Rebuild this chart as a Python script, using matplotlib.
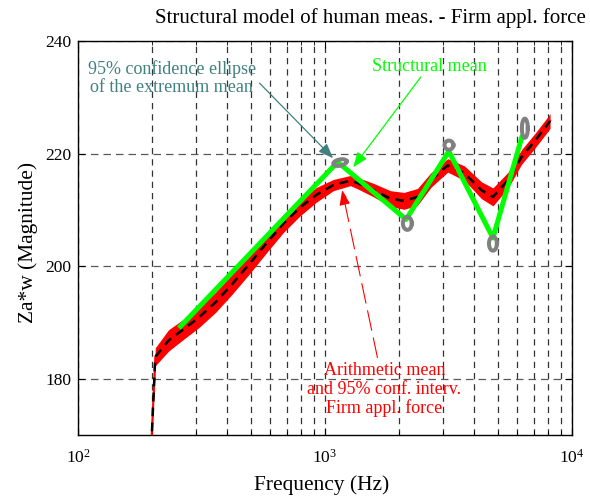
import numpy as np
import matplotlib
matplotlib.use("Agg")
import matplotlib.pyplot as plt

plt.rcParams['font.family'] = ['Liberation Serif', 'DejaVu Serif']
plt.rcParams['mathtext.fontset'] = 'custom'
plt.rcParams['mathtext.rm'] = 'Liberation Serif'
plt.rcParams['mathtext.it'] = 'Liberation Serif:italic'

# Arithmetic mean curve (Hz, magnitude) and half-width of 95% band
freq = [198, 205.6, 232.6, 264, 309, 361, 422.5, 494, 578, 676, 791, 925, 1081, 1265,
        1346, 1574, 1841, 2089, 2368, 2685, 3139, 3673, 4296, 4786, 5515, 6250, 7086,
        8035, 8150]
mean = [168.0, 183.9, 186.8, 188.6, 190.9, 193.6, 196.9, 200.4, 204.0, 207.5, 210.4,
        212.7, 214.4, 215.2, 214.8, 213.5, 212.0, 211.6, 212.3, 215.3, 217.9, 216.5,
        213.5, 212.3, 215.3, 219.4, 222.3, 225.4, 225.8]
halfw = [0.3, 1.6, 1.9, 1.8, 1.8, 1.8, 1.8, 1.8, 1.7, 1.6, 1.5, 1.3, 1.0, 0.9,
         1.0, 1.2, 1.4, 1.5, 1.5, 1.3, 1.2, 1.3, 1.5, 1.6, 1.4, 1.3, 1.3, 1.3, 1.3]

# Structural mean (piecewise linear through extrema)
struct_f = [256, 1125, 2130, 3170, 4786, 6300]
struct_y = [189.0, 218.5, 208.3, 220.4, 205.0, 223.3]

# 95% confidence ellipses of extremum means
ell_f = [1150, 2155, 3175, 4786, 6443]
ell_y = [218.4, 207.6, 221.5, 204.0, 224.5]
ell_w = [0.0275, 0.0180, 0.0180, 0.0160, 0.0120]   # semi-axis, decades
ell_h = [0.55, 1.15, 0.80, 1.25, 1.70]             # semi-axis, dB
ell_ang = [12, 0, 0, 0, 0]

title = "Structural model of human meas. - Firm appl. force"

fig = plt.figure(figsize=(5.9, 4.99), dpi=100)
ax = fig.add_axes([78/590, 1-435/499, (572-78)/590, (435-41)/499])

f = np.array(freq); m = np.array(mean); h = np.array(halfw)
ax.fill_between(f, m - h, m + h, color='#ff0000', lw=0, zorder=3)
ax.plot(f, m, color='#ff0000', lw=1.5, zorder=3)
ax.plot(f, m, color='black', lw=1.8, dashes=(3.5, 2.5), zorder=4)
ax.plot(struct_f, struct_y, color='#00ff00', lw=3.6, zorder=5, solid_capstyle='butt')

t = np.linspace(0, 2*np.pi, 100)
for cf, cy, w, hh, a in zip(ell_f, ell_y, ell_w, ell_h, ell_ang):
    # rotate in pixel-like space: 245 px/decade, 5.62 px/dB
    xp = w*245*np.cos(t); yp = hh*5.62*np.sin(t)
    th = np.deg2rad(a)
    xr = xp*np.cos(th) - yp*np.sin(th); yr = xp*np.sin(th) + yp*np.cos(th)
    ax.plot(10**(np.log10(cf) + xr/245), cy + yr/5.62, color='#808080', lw=2.9, zorder=6)

ax.set_xscale('log')
ax.set_xlim(100, 10000)
ax.set_ylim(170, 240)
ax.set_yticks([180, 200, 220, 240])
ax.tick_params(which='both', direction='in', top=True, right=True, labelsize=12.5)
ax.tick_params(which='major', length=5, width=0.8)
ax.tick_params(which='minor', length=3, width=0.6)
ax.tick_params(axis='x', pad=10)
ax.tick_params(axis='y', pad=5)
ax.grid(True, which='both', axis='x', color='0.2', lw=0.9, linestyle=(0, (5, 4)))
ax.grid(True, which='major', axis='y', color='0.35', lw=0.9, linestyle=(0, (6, 4)))
ax.set_axisbelow(True)
for s in ax.spines.values():
    s.set_linewidth(1.0)

ax.set_xlabel("Frequency (Hz)", fontsize=15.4)
ax.xaxis.set_label_coords((322-78)/494, -(485-435)/394)
ax.xaxis.label.set_va('center')
ax.set_ylabel("Za*w (Magnitude)", fontsize=15.4)
ax.yaxis.set_label_coords(-(78-28)/494, 0.49)
ax.yaxis.label.set_va('center')
fig.text(370/590, 1-18/499, title, fontsize=15, ha='center', va='center')

def px(xp, yp):
    return (10**(2 + (xp-80)/245), 240 - (yp-41)/5.62)

teal = '#408080'
ax.text(*px(173, 78), "95% confidence ellipse\nof the extremum mean", color=teal,
        fontsize=13, ha='center', va='center', linespacing=1.15, zorder=7)
ax.annotate("", xy=px(333, 158), xytext=px(260, 83),
            arrowprops=dict(arrowstyle='-|>,head_length=0.9,head_width=0.35', color=teal, lw=0.9,
                            shrinkA=0, shrinkB=0), zorder=7)
ax.text(*px(429, 66), "Structural mean", color='#00ff00', fontsize=13,
        ha='center', va='center', zorder=7)
ax.annotate("", xy=px(353, 167), xytext=px(420, 77),
            arrowprops=dict(arrowstyle='-|>,head_length=0.9,head_width=0.35', color='#00ff00', lw=0.9,
                            shrinkA=0, shrinkB=0), zorder=7)
ax.text(*px(384, 389), "Arithmetic mean\nand 95% conf. interv.\nFirm appl. force", color='#ff0000',
        fontsize=13, ha='center', va='center', linespacing=1.15, zorder=7)
ax.annotate("", xy=px(342, 190), xytext=px(377, 357),
            arrowprops=dict(arrowstyle='-|>,head_length=0.9,head_width=0.35', color='#ff0000', lw=0.8,
                            linestyle=(0, (18, 7)), shrinkA=0, shrinkB=0), zorder=7)

fig.savefig("out.png", dpi=100)
